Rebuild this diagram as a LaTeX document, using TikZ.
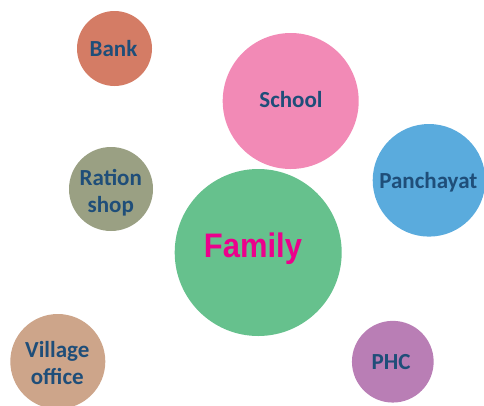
\documentclass[tikz,border=0pt]{standalone}
\usepackage{fontspec}
\setmainfont{Carlito}
\newfontfamily\famfont{Liberation Sans}
\definecolor{cbank}{HTML}{D47C65}
\definecolor{cration}{HTML}{9AA083}
\definecolor{cschool}{HTML}{F28AB6}
\definecolor{cpanch}{HTML}{5AABDD}
\definecolor{cfamily}{HTML}{66C18D}
\definecolor{cvillage}{HTML}{CDA58A}
\definecolor{cphc}{HTML}{B97EB5}
\definecolor{labblue}{HTML}{1F4E79}
\definecolor{famtext}{HTML}{EC008C}
\begin{document}
\begin{tikzpicture}[x=1pt,y=-1pt,
  bubble/.style={circle,inner sep=0pt,draw=none,minimum size=#1},
  lab/.style={anchor=base,inner sep=0pt,text=labblue,font=\fontsize{23}{26.7}\selectfont\bfseries}]
\useasboundingbox (0,0) rectangle (484,405);
\node[bubble=75pt,fill=cbank] (bank) at (114.5,48.5) {};
\node[bubble=84pt,fill=cration] (ration) at (111,189) {};
\node[bubble=136pt,fill=cschool] (school) at (290.7,101) {};
\node[bubble=112.6pt,fill=cpanch] (panch) at (429,180.3) {};
\node[bubble=167pt,fill=cfamily] (family) at (258.2,252.5) {};
\node[bubble=95pt,fill=cvillage] (village) at (57.8,361.5) {};
\node[bubble=81.7pt,fill=cphc] (phc) at (392.8,361.7) {};
\node[lab] (banklab) at (113.5,56) {Bank};
\node[lab] (schoollab) at (291,107.3) {School};
\node[lab] (panchlab) at (428.3,188.3) {Panchayat};
\node[lab] (rationlab) at (110.8,185.7) {\begin{tabular}[t]{@{}c@{}}Ration\\shop\end{tabular}};
\node[lab] (villagelab) at (57.3,357.3) {\begin{tabular}[t]{@{}c@{}}Village\\office\end{tabular}};
\node[lab] (phclab) at (391.2,369.3) {PHC};
\node[anchor=base,inner sep=0pt,text=famtext,font=\famfont\bfseries\fontsize{34}{36}\selectfont] (familylab) at (253,257.7) {\scalebox{0.91}[1]{Family}};
\end{tikzpicture}
\end{document}
